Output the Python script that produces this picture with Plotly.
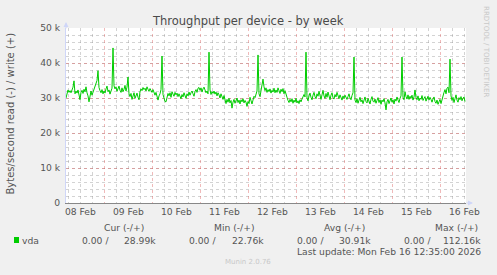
import pandas as pd
import plotly.graph_objects as go

# ---------------- data ----------------
start_time = "2026-02-08 04:50"
end_time = "2026-02-16 12:50"
sample_minutes = 30

# write throughput (bytes/s, in thousands), one value per 30 minutes
write_k = [
    30.0, 31.8, 32.3, 31.6, 32.1, 31.5, 32.4, 33.1, 34.9, 31.2,
    32.0, 31.4, 32.3, 31.0, 29.5, 31.6, 32.2, 31.3, 32.5, 31.8,
    33.2, 31.5, 30.6, 28.9, 31.2, 32.0, 30.8, 31.7, 32.6, 33.4,
    34.1, 35.0, 37.8, 33.0, 32.1, 31.5, 32.4, 31.2, 32.0, 31.4,
    32.6, 33.4, 31.8, 32.3, 31.1, 32.0, 32.8, 44.3, 33.5, 32.6,
    33.2, 31.9, 32.8, 33.4, 32.2, 31.6, 32.9, 31.8, 32.5, 33.6,
    32.0, 33.1, 36.0, 31.2, 30.4, 31.3, 29.6, 30.8, 31.5, 29.9,
    30.7, 31.4, 30.2, 29.5, 31.8, 32.6, 32.1, 33.0, 32.4, 32.8,
    32.0, 33.2, 32.5, 31.9, 32.7, 32.3, 31.6, 32.4, 31.2, 30.8,
    31.6, 30.5, 29.4, 30.6, 31.2, 32.4, 42.0, 31.0, 30.2, 29.0,
    28.9, 30.4, 31.3, 30.6, 31.5, 30.2, 31.8, 31.1, 30.5, 31.6,
    30.9, 31.4, 30.4, 31.2, 30.6, 29.8, 31.0, 30.3, 31.5, 30.8,
    29.9, 31.2, 30.6, 31.7, 30.8, 31.5, 32.0, 31.2, 30.5, 31.8,
    32.4, 31.6, 32.8, 33.0, 32.2, 32.9, 31.7, 32.6, 33.1, 32.3,
    31.5, 32.0, 31.2, 43.1, 32.3, 31.0, 31.8, 31.3, 32.0, 31.1,
    31.7, 30.6, 31.5, 30.9, 30.0, 31.2, 30.4, 29.6, 30.7, 29.2,
    28.4, 29.6, 28.8, 29.9, 28.6, 29.3, 27.1, 28.8, 29.6, 28.5,
    29.2, 30.0, 28.7, 29.4, 28.3, 29.5, 28.9, 29.8, 28.6, 29.3,
    28.8, 27.6, 29.0, 28.4, 30.2, 29.1, 28.3, 29.4, 30.5, 30.1,
    31.4, 32.0, 42.3, 31.2, 30.4, 32.6, 33.8, 35.4, 33.2, 32.1,
    32.9, 31.6, 32.4, 31.8, 32.6, 31.4, 32.2, 31.7, 32.8, 31.5,
    32.3, 31.6, 32.9, 32.0, 31.3, 32.5, 31.8, 32.7, 31.2, 32.1,
    31.4, 30.2, 29.3, 28.7, 29.6, 28.9, 29.8, 28.5, 29.4, 28.8,
    29.9, 28.6, 29.2, 28.4, 29.5, 28.9, 29.7, 30.4, 31.0, 30.3,
    43.1, 30.0, 29.2, 30.6, 31.4, 30.2, 29.5, 30.8, 31.6, 30.4,
    29.8, 31.2, 30.5, 31.9, 30.7, 29.6, 30.9, 32.2, 30.6, 29.9,
    31.3, 30.2, 31.7, 30.4, 29.5, 30.8, 31.5, 30.1, 29.7, 31.0,
    30.3, 31.6, 30.5, 29.8, 30.9, 30.2, 29.4, 30.6, 29.9, 30.8,
    30.1, 29.6, 30.4, 31.2, 30.0, 29.5, 30.7, 31.5, 41.7, 29.4,
    28.7, 29.8, 28.5, 29.6, 30.2, 28.9, 29.5, 28.4, 29.7, 30.3,
    29.0, 28.6, 29.9, 29.2, 28.3, 29.6, 30.4, 29.1, 28.8, 29.7,
    28.5, 29.3, 30.1, 28.7, 29.5, 28.2, 29.4, 28.9, 29.8, 28.6,
    26.6, 28.9, 29.6, 28.4, 29.2, 30.0, 28.8, 29.5, 28.3, 29.7,
    29.1, 30.3, 29.4, 28.7, 29.9, 30.6, 41.7, 30.2, 29.5, 31.8,
    30.4, 29.7, 30.9, 29.6, 30.5, 29.9, 30.8, 29.4, 30.3, 32.3,
    30.1, 29.5, 30.6, 29.2, 30.0, 29.6, 30.7, 29.3, 29.9, 30.4,
    29.1, 29.8, 30.5, 29.4, 30.2, 29.6, 28.8, 29.7, 30.3, 29.0,
    28.5, 29.4, 28.2, 28.9, 29.6, 28.4, 29.8, 30.5, 31.6, 32.4,
    31.2, 32.8, 33.1, 31.5, 41.1, 30.6, 29.3, 30.2, 28.7, 29.8,
    30.9, 29.4, 28.8, 30.1, 29.5, 30.4, 29.2, 29.9, 30.3, 29.0,
]

day_label_times = [
    "2026-02-08 12:00", "2026-02-09 12:00", "2026-02-10 12:00",
    "2026-02-11 12:00", "2026-02-12 12:00", "2026-02-13 12:00",
    "2026-02-14 12:00", "2026-02-15 12:00", "2026-02-16 12:00",
]
day_labels = ["08 Feb", "09 Feb", "10 Feb", "11 Feb", "12 Feb",
              "13 Feb", "14 Feb", "15 Feb", "16 Feb"]
midnights = ["2026-02-09", "2026-02-10", "2026-02-11", "2026-02-12",
             "2026-02-13", "2026-02-14", "2026-02-15", "2026-02-16"]

y_tick_values = [0, 10000, 20000, 30000, 40000, 50000]
y_tick_labels = ["0", "10 k", "20 k", "30 k", "40 k", "50 k"]

legend_headers = ["Cur (-/+)", "Min (-/+)", "Avg (-/+)", "Max (-/+)"]
legend_read = ["0.00 /", "0.00 /", "0.00 /", "0.00 /"]
legend_write = ["28.99k", "22.76k", "30.91k", "112.16k"]
series_name = "vda"
last_update = "Last update: Mon Feb 16 12:35:00 2026"

# ---------------- layout constants ----------------
W, H = 497, 275
L, R, T, B = 66, 31, 28, 72
PW, PH = W - L - R, H - T - B
FONT = "DejaVu Sans"
TXT = "#555555"
GREEN = "#00CC00"
MAJOR = "rgba(220,90,90,0.42)"
MINOR = "rgba(150,150,150,0.42)"
AXISC = "#CFD6F8"


def px(x):
    return (x - L) / PW


def py(y):
    return (H - B - y) / PH


times = pd.date_range(start_time, periods=len(write_k), freq=f"{sample_minutes}min")
values = [v * 1000 for v in write_k]

fig = go.Figure()
fig.add_trace(go.Scatter(x=times, y=values, mode="lines",
                         line=dict(color=GREEN, width=1), hoverinfo="skip",
                         showlegend=False))
fig.add_trace(go.Scatter(x=[], y=[], xaxis="x2", showlegend=False))

fig.update_layout(
    width=W, height=H,
    margin=dict(l=L, r=R, t=T, b=B, pad=0),
    paper_bgcolor="#F0F0F0", plot_bgcolor="white",
    font=dict(family=FONT, size=9.2, color=TXT),
    showlegend=False,
    xaxis=dict(
        type="date", range=[start_time, end_time],
        tickmode="array", tickvals=day_label_times, ticktext=day_labels,
        showgrid=True, gridcolor=MINOR, griddash="dot", gridwidth=1,
        minor=dict(tick0="2026-02-08 06:00", dtick=12 * 3600 * 1000,
                   showgrid=True, gridcolor=MINOR, griddash="dot", gridwidth=1),
        ticks="", showline=True, linecolor="#888888", linewidth=1,
        zeroline=False, tickfont=dict(size=9.2, color=TXT),
    ),
    xaxis2=dict(
        type="date", range=[start_time, end_time], overlaying="x", anchor="y",
        tickmode="array", tickvals=midnights, showticklabels=False,
        showgrid=True, gridcolor=MAJOR, griddash="dot", gridwidth=1,
        ticks="", showline=False, zeroline=False,
    ),
    yaxis=dict(
        range=[0, 50000], tickmode="array", tickvals=y_tick_values,
        ticktext=y_tick_labels,
        showgrid=True, gridcolor=MAJOR, griddash="dot", gridwidth=1,
        minor=dict(dtick=2000, showgrid=True, gridcolor=MINOR,
                   griddash="dot", gridwidth=1),
        ticks="", showline=True, linecolor=AXISC, linewidth=1,
        zeroline=False, tickfont=dict(size=9.2, color=TXT),
        ticklabelstandoff=3,
    ),
)

ann = []
# title
ann.append(dict(text="Throughput per device - by week", x=px(248), y=py(21),
                xref="paper", yref="paper", showarrow=False,
                font=dict(size=11.5, color="#4a4a4a"), xanchor="center",
                yanchor="middle"))
# y-axis title
ann.append(dict(text="Bytes/second read (-) / write (+)", x=px(10), y=py(113.5),
                xref="paper", yref="paper", showarrow=False, textangle=-90,
                font=dict(size=10, color=TXT), xanchor="center", yanchor="middle"))
# rrdtool watermark
ann.append(dict(text="RRDTOOL / TOBI OETIKER", x=px(487), y=py(51),
                xref="paper", yref="paper", showarrow=False, textangle=90,
                font=dict(size=7.1, color="#C8C8C8"), xanchor="center",
                yanchor="middle"))
# axis arrows
ann.append(dict(text="", x=0, y=py(22), xref="paper", yref="paper",
                showarrow=True, ax=0, ay=8, arrowhead=2, arrowsize=1,
                arrowwidth=1, arrowcolor=AXISC))
ann.append(dict(text="", x=px(473), y=0, xref="paper", yref="paper",
                showarrow=True, ax=-8, ay=0, arrowhead=2, arrowsize=1,
                arrowwidth=1, arrowcolor=AXISC))
# legend
header_right = [146, 257, 367, 480]
read_right = [111, 218, 326, 433]
write_right = [158, 266, 373, 483]
for i in range(4):
    ann.append(dict(text=legend_headers[i], x=px(header_right[i]), y=py(227),
                    xref="paper", yref="paper", showarrow=False,
                    xanchor="right", yanchor="middle"))
    ann.append(dict(text=legend_read[i], x=px(read_right[i]), y=py(240),
                    xref="paper", yref="paper", showarrow=False,
                    xanchor="right", yanchor="middle"))
    ann.append(dict(text=legend_write[i], x=px(write_right[i]), y=py(240),
                    xref="paper", yref="paper", showarrow=False,
                    xanchor="right", yanchor="middle"))
ann.append(dict(text=series_name, x=px(20), y=py(240), xref="paper",
                yref="paper", showarrow=False, xanchor="left", yanchor="middle"))
ann.append(dict(text=last_update, x=px(483), y=py(251), xref="paper",
                yref="paper", showarrow=False, xanchor="right", yanchor="middle"))
ann.append(dict(text="Munin 2.0.76", x=px(248), y=py(262), xref="paper",
                yref="paper", showarrow=False, xanchor="center", yanchor="middle",
                font=dict(size=7, color="#C8C8C8")))
fig.update_layout(annotations=ann)

fig.add_shape(type="rect", xref="paper", yref="paper",
              x0=px(14), x1=px(19), y0=py(243), y1=py(237),
              fillcolor=GREEN, line=dict(width=0))

fig.write_html("out.html")
